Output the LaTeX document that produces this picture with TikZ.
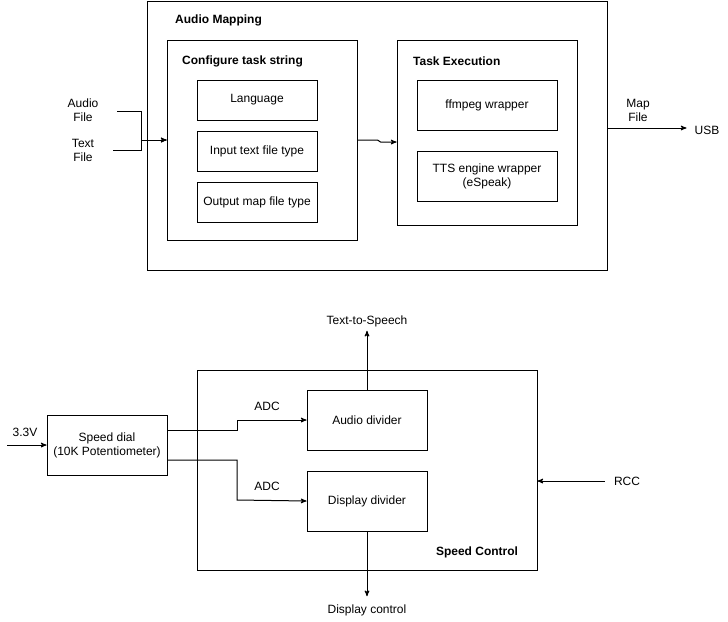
\documentclass[tikz,border=0pt]{standalone}
\usepackage{fontspec}
\setmainfont{Liberation Sans}
\usetikzlibrary{arrows,positioning}
\tikzset{
    %Define standard arrow tip
    >=stealth',
    %Define style for boxes
    box/.style={
           rectangle,
           draw=black, line width=1pt,
           inner sep=2pt,
           font=\fontsize{12}{14}\selectfont,
           align=center},
    % text on its own
    lbl/.style={
           inner sep=2pt,
           font=\fontsize{12}{14}\selectfont,
           align=center},
    ttl/.style={
           inner sep=0pt,
           anchor=west,
           font=\fontsize{12}{14}\selectfont\bfseries},
    % Define arrow style
    pil/.style={
           ->,
           line width=1pt}
}

\begin{document}
\begin{tikzpicture}[x=1pt,y=-1pt,node distance=10pt]
\useasboundingbox (0,0) rectangle (728,621);
% audio mapping
\node[box,minimum width=460pt,minimum height=269pt](1) at (377,135.5){};
\node[ttl](1t) at (175,20){Audio Mapping};
\node[box,minimum width=190pt,minimum height=200pt](2) at (262,140){};
\node[ttl](2t) at (182,61){Configure task string};
\node[box,minimum width=120pt,minimum height=40pt](3) at (257,100){Language};
\node[box,minimum width=120pt,minimum height=40pt,below=of 3](4){Input text file type};
\node[box,minimum width=120pt,minimum height=40pt,below=of 4](5){Output map file type};
\node[box,minimum width=180pt,minimum height=185pt](6) at (487,132.5){};
\node[ttl](6t) at (413,61){Task Execution};
\node[box,minimum width=140pt,minimum height=50pt](7) at (487,105){ffmpeg wrapper};
\node[box,minimum width=140pt,minimum height=50pt,below=20pt of 7](8){TTS engine wrapper\\(eSpeak)};
\coordinate (a1) at (117,111);
\coordinate (a2) at (113,150);
\node[lbl](a1t) at (83,110){Audio\\File};
\node[lbl](a2t) at (83,150){Text\\File};
\node[lbl](mt) at (638,110){Map\\File};
\node[lbl](usb) at (707,130){USB};
\draw[pil] (a1) -- (141,111) -- (141,140) -- (2.west);
\draw[pil] (a2) -- (141,150) -- (141,140) -- (2.west);
\draw[pil] (2.east) -- +(20,0) -- +(23,2) -- (6.west |- 0,142);
\draw[pil,shorten >=6pt] (1.east |- 0,128) -- (usb.west |- 0,128);
% speed control
\node[box,minimum width=120pt,minimum height=60pt](9) at (107,445){Speed dial\\(10K Potentiometer)};
\node[box,minimum width=340pt,minimum height=200pt](10) at (367,470){};
\node[ttl,anchor=center](10t) at (477,552){Speed Control};
\node[box,minimum width=120pt,minimum height=60pt](11) at (367,420){Audio divider};
\node[box,minimum width=120pt,minimum height=60pt,below=20pt of 11](12){Display divider};
\coordinate (v1) at (7,445);
\node[lbl](vt) at (25,432){3.3V};
\node[lbl](adc1) at (267,406){ADC};
\node[lbl](adc2) at (267,486){ADC};
\node[lbl](tts) at (367,321){Text-to-Speech};
\node[lbl](dc) at (367,610){Display control};
\node[lbl](rcc) at (627,481){RCC};
\draw[pil] (v1) -- (9.west);
\draw[pil] (9.east |- 0,430) -- (237,430) -- (237,420) -- (11.west);
\draw[pil] (9.east |- 0,460) -- (237,460) -- (237,500) -- (12.west);
\draw[pil,shorten >=2pt] (11.north) -- (tts.south);
\draw[pil,shorten >=6pt] (12.south) -- (dc.north);
\draw[pil,shorten <=7pt] (rcc.west) -- (10.east |- rcc);
\end{tikzpicture}
\end{document}
